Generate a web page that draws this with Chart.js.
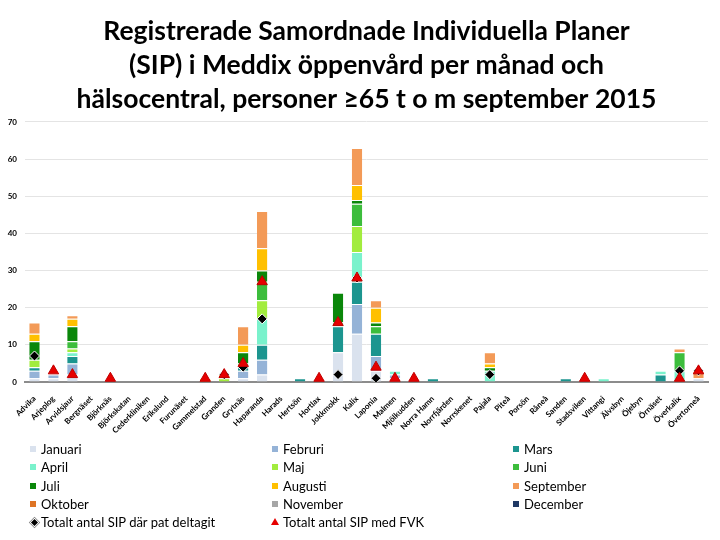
<!DOCTYPE html>
<html>
<head>
<meta charset="utf-8">
<script src="https://cdn.jsdelivr.net/npm/chart.js@4.4.1/dist/chart.umd.min.js"></script>
<style>
  html, body { margin: 0; padding: 0; background: #fff; }
  #wrap { position: relative; width: 720px; height: 540px; }
  #c { position: absolute; left: 0; top: 0; }
  #legend { position: absolute; left: 0; top: 440px; width: 720px; font-family: Lato, "Open Sans", sans-serif; font-size: 13px; color: #000; }
  .item { position: absolute; height: 18px; line-height: 18px; white-space: nowrap; }
  .mk { position: absolute; left: 0; top: 6px; width: 6px; height: 6px; }
  .tx { position: absolute; left: 11px; top: 0; }
</style>
</head>
<body>
<div id="wrap">
  <canvas id="c" width="720" height="540"></canvas>
  <div id="legend"></div>
</div>
<script>
const N = null;
const categories = ['Advika','Arjeplog','Arvidsjaur','Bergnäset','Björknäs','Björkskatan','Cederkliniken','Erikslund','Furunäset','Gammelstad','Granden','Grytnäs','Haparanda','Harads','Hertsön','Hortlax','Jokkmokk','Kalix','Laponia','Malmen','Mjölkudden','Norra Hamn','Norrfjärden','Norrskenet','Pajala','Piteå','Porsön','Råneå','Sanden','Stadsviken','Vittangi','Älvsbyn','Öjebyn','Örnäset','Överkalix','Övertorneå'];

const januari   = [1,1,2,N,N,N,N,N,N,N, N,1,2,N,N,N,8,13,3,1, N,N,N,N,N,N,N,N,N,N, N,N,N,N,N,1];
const februri   = [2,1,3,N,N,N,N,N,N,N, N,2,4,N,N,N,N,8,4,1, N,N,N,N,N,N,N,N,N,N, N,N,N,N,N,N];
const mars      = [1,N,2,N,N,N,N,N,N,N, N,1,4,N,1,N,7,6,6,N, N,1,N,N,N,N,N,N,1,N, N,N,N,2,N,N];
const april     = [N,N,1,N,N,N,N,N,N,N, N,N,7,N,N,N,N,8,N,1, N,N,N,N,3,N,N,N,N,N, 1,N,N,1,3,N];
const maj       = [2,N,1,N,N,N,N,N,N,N, 1,N,5,N,N,N,N,7,N,N, N,N,N,N,N,N,N,N,N,N, N,N,N,N,N,N];
const juni      = [N,N,2,N,N,N,N,N,N,N, N,1,5,N,N,N,1,6,2,N, N,N,N,N,N,N,N,N,N,N, N,N,N,N,5,N];
const juli      = [5,N,4,N,N,N,N,N,N,N, N,3,3,N,N,N,8,1,1,N, N,N,N,N,1,N,N,N,N,N, N,N,N,N,N,N];
const augusti   = [2,N,2,N,N,N,N,N,N,1, 1,2,6,N,N,N,N,4,4,N, N,N,N,N,1,N,N,N,N,N, N,N,N,N,N,N];
const september = [3,N,1,N,N,N,N,N,N,N, N,5,10,N,N,N,N,10,2,N, N,N,N,N,3,N,N,N,N,N, N,N,N,N,1,2];
const oktober   = [];
const november  = [];
const december  = [];
const deltagit  = [7,N,N,N,N,N,N,N,N,N, 2,4,17,N,N,N,2,28,1,N, N,N,N,N,2,N,N,N,N,N, N,N,N,N,3,3];
const medFVK    = [N,3,2,N,1,N,N,N,N,1, 2,5,27,N,N,1,16,28,4,1, 1,N,N,N,N,N,N,N,N,1, N,N,N,N,1,3];
const yTicks = [0,10,20,30,40,50,60,70];

const titleLines = ['Registrerade Samordnade Individuella Planer','(SIP) i Meddix öppenvård per månad och','hälsocentral, personer ≥65 t o m september 2015'];

const months = [
  ['Januari', januari, '#dae2ee'],
  ['Februri', februri, '#95b3d7'],
  ['Mars', mars, '#1c958f'],
  ['April', april, '#7af2cc'],
  ['Maj', maj, '#a2ec3e'],
  ['Juni', juni, '#3cbd3c'],
  ['Juli', juli, '#0a870a'],
  ['Augusti', augusti, '#ffc000'],
  ['September', september, '#f39a57'],
  ['Oktober', oktober, '#de7424'],
  ['November', november, '#a6a6a6'],
  ['December', december, '#1f3864']
];

const datasets = months.map(([label, data, color]) => ({
  type: 'bar', label, data, backgroundColor: color,
  borderColor: '#ffffff', borderWidth: {top: 1, bottom: 0, left: 0, right: 0}, borderSkipped: false,
  barPercentage: 0.55, categoryPercentage: 1, stack: 'months', order: 5
}));
datasets.push({
  type: 'line', label: 'Totalt antal SIP där pat deltagit', data: deltagit, showLine: false,
  pointStyle: 'rectRot', pointRadius: 5, pointBackgroundColor: '#000', pointBorderColor: '#fff', pointBorderWidth: 1,
  stack: 'd', order: 2, spanGaps: false
});
datasets.push({
  type: 'line', label: 'Totalt antal SIP med FVK', data: medFVK, showLine: false,
  pointStyle: 'triangle', pointRadius: 6, pointBackgroundColor: '#e60000', pointBorderColor: '#c00000', pointBorderWidth: 1,
  stack: 't', order: 1, spanGaps: false
});

const chart = new Chart(document.getElementById('c'), {
  type: 'bar',
  data: { labels: categories, datasets },
  options: {
    responsive: false, animation: false, devicePixelRatio: 1,
    layout: { padding: { left: 0, right: 12, top: 0, bottom: 100 } },
    plugins: {
      legend: { display: false },
      tooltip: { enabled: false },
      title: {
        display: true, text: titleLines, fullSize: false, color: '#000',
        font: { family: 'Lato', size: 26.5, weight: 'bold', lineHeight: 1.27 },
        padding: { top: 15, bottom: 6 }
      }
    },
    scales: {
      x: {
        stacked: true,
        grid: { display: false },
        border: { color: '#8c8c8c', width: 2 },
        ticks: { autoSkip: false, maxRotation: 45, minRotation: 45, color: '#000', padding: 4,
                 font: { family: 'Lato', size: 8, weight: 'bold' } },
        afterFit(s) { s.height = 58; }
      },
      y: {
        stacked: true, min: 0, max: 70,
        afterBuildTicks(s) { s.ticks = yTicks.map(v => ({ value: v })); },
        grid: { color: '#e4e4e4', lineWidth: 1, drawTicks: false },
        border: { display: false },
        ticks: { color: '#000', padding: 8, font: { family: 'Lato', size: 8, weight: 'bold' } },
        afterFit(s) { s.width = 25; }
      }
    }
  }
});

// HTML legend built from the chart datasets
const legendEl = document.getElementById('legend');
const colX = [30, 272, 513];
const rowH = 18.3;
chart.data.datasets.forEach((ds, i) => {
  const col = i % 3, row = Math.floor(i / 3);
  const item = document.createElement('div');
  item.className = 'item';
  item.style.left = colX[col] + 'px';
  item.style.top = (row * rowH) + 'px';
  const mk = document.createElement('span');
  mk.className = 'mk';
  if (ds.type === 'bar') {
    mk.style.background = ds.backgroundColor;
  } else if (ds.pointStyle === 'rectRot') {
    mk.style.width = '5px'; mk.style.height = '5px'; mk.style.left = '1px'; mk.style.top = '6px';
    mk.style.background = '#000'; mk.style.border = '1px solid #fff';
    mk.style.transform = 'rotate(45deg)'; mk.style.boxShadow = '0 0 0 0.5px #888';
  } else {
    mk.style.width = '0'; mk.style.height = '0'; mk.style.top = '5px'; mk.style.left = '-1px';
    mk.style.borderLeft = '4px solid transparent'; mk.style.borderRight = '4px solid transparent';
    mk.style.borderBottom = '7px solid #e60000';
  }
  const tx = document.createElement('span');
  tx.className = 'tx';
  tx.textContent = ds.label;
  item.appendChild(mk); item.appendChild(tx);
  legendEl.appendChild(item);
});
</script>
</body>
</html>
